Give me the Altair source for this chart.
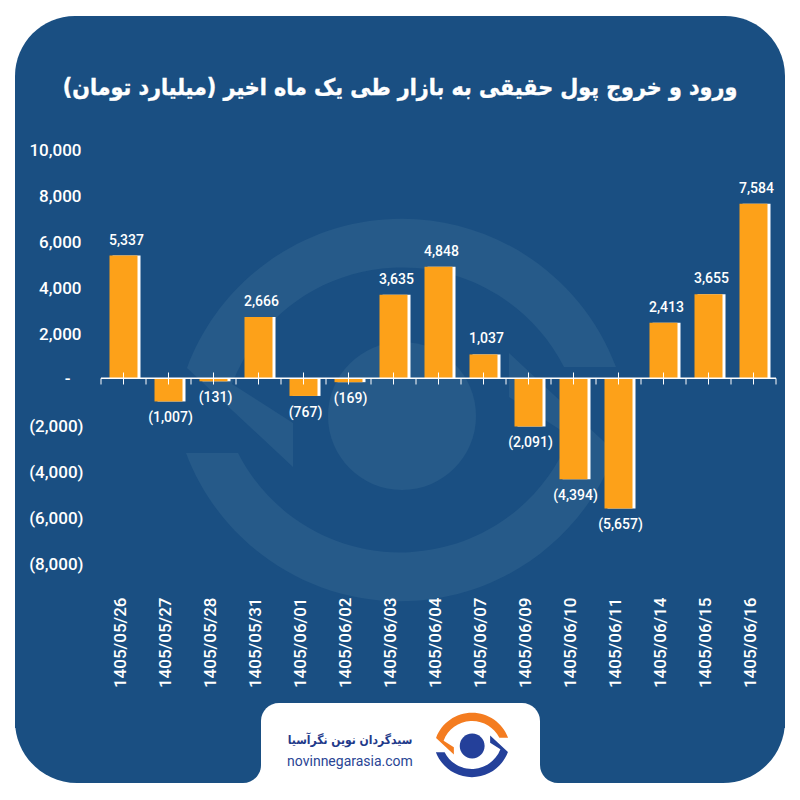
import altair as alt
import pandas as pd

dates = ["1405/05/26", "1405/05/27", "1405/05/28", "1405/05/31", "1405/06/01",
         "1405/06/02", "1405/06/03", "1405/06/04", "1405/06/07", "1405/06/09",
         "1405/06/10", "1405/06/11", "1405/06/14", "1405/06/15", "1405/06/16"]
values = [5337, -1007, -131, 2666, -767, -169, 3635, 4848, 1037, -2091,
          -4394, -5657, 2413, 3655, 7584]
y_ticks = [10000, 8000, 6000, 4000, 2000, 0, -2000, -4000, -6000, -8000]
title_text = "ورود و خروج پول حقیقی به بازار طی یک ماه اخیر (میلیارد تومان)"
brand_text = "سیدگردان نوین نگرآسیا"
site_text = "novinnegarasia.com"

BLUE = "#1a4f82"
WATER = "#265a89"
ORANGE = "#fda119"
LOGO_ORANGE = "#f47c20"
LOGO_BLUE = "#24409a"
FONT = "Roboto"
FA_FONT = "DejaVu Sans Condensed"

df = pd.DataFrame({
    "date": dates,
    "value": values,
    "label": [f"{v:,}" if v >= 0 else f"({-v:,})" for v in values],
})
one = pd.DataFrame({"a": [0]})

x_scale = alt.Scale(domain=dates, range=[93, 768], paddingInner=0, paddingOuter=0)
y_scale = alt.Scale(domain=[-8000, 10000], range=[554.3, 140.3], nice=False)

label_expr = ("datum.value === 0 ? '-' : datum.value < 0 ? "
              "'(' + format(-datum.value, ',') + ')' : format(datum.value, ',')")

X = alt.X("date:N", scale=x_scale, sort=dates, title=None,
          axis=alt.Axis(orient="bottom", offset=-195, labelAngle=-90, labelAlign="right",
                        labelBaseline="middle", labelFont=FONT, labelFontSize=17,
                        labelFontWeight=500, labelColor="white", labelOffset=-2.5,
                        labelPadding=0, ticks=False, domain=False, grid=False, zindex=1,
                        labelOverlap=False))
Y = alt.Y("value:Q", scale=y_scale, title=None,
          axis=alt.Axis(orient="left", offset=-73, values=y_ticks, labelExpr=label_expr,
                        labelFont=FONT, labelFontSize=17, labelFontWeight=500,
                        labelColor="white", ticks=False, domain=False, grid=False,
                        zindex=1, labelOverlap=False,
                        labelOffset={"condition": {"test": "datum.value === 0", "value": 0},
                                     "value": 2.5},
                        labelPadding={"condition": [
                            {"test": "datum.value === 0", "value": 11},
                            {"test": "datum.value < 0", "value": -2}],
                            "value": 0}))


def rect(x, x2, y, y2, color, **radii):
    return alt.Chart(one).mark_rect(color=color, **radii).encode(
        x=alt.value(x), x2=alt.value(x2), y=alt.value(y), y2=alt.value(y2))


def shape(path, cx, cy, size, color):
    return alt.Chart(one).mark_point(shape=path, size=size, filled=True, fill=color,
                                     opacity=1, strokeWidth=0).encode(
        x=alt.value(cx - 8), y=alt.value(cy - 8))


def text(s, cx, cy, font, size, weight, color, **kw):
    return alt.Chart(one).mark_text(text=s, font=font, fontSize=size, fontWeight=weight,
                                    color=color, align="center", baseline="middle", **kw).encode(
        x=alt.value(cx - 8), y=alt.value(cy - 8))


TOP = ("M-2.14,-.42 A2.29,2.29 0 0 1 2.15,-.43 L1.63,-.43 "
       "A1.82,1.82 0 0 0 -1.69,-.26 L-1.08,.13 L-1.08,.57 Z")
BOTTOM = ("M2.14,.42 A2.29,2.29 0 0 1 -2.15,.43 L-1.63,.43 "
          "A1.82,1.82 0 0 0 1.69,.26 L1.08,-.13 L1.08,-.57 Z")
CIRCLE = "M-.73,.06 A.74,.74 0 1 1 .75,.06 A.74,.74 0 1 1 -.73,.06 Z"

panel = [
    rect(7, 777, 8, 720, BLUE, cornerRadiusTopLeft=60, cornerRadiusTopRight=60),
    rect(7, 253, 500, 775, BLUE, cornerRadiusBottomLeft=62, cornerRadiusBottomRight=18),
    rect(532, 777, 500, 775, BLUE, cornerRadiusBottomRight=62, cornerRadiusBottomLeft=18),
    rect(253, 532, 695, 775, "white", cornerRadiusTopLeft=18, cornerRadiusTopRight=18),
    shape(TOP, 401, 410, 40000, WATER),
    shape(BOTTOM, 401, 410, 40000, WATER),
    shape(CIRCLE, 401, 410, 40000, WATER),
]

base = alt.Chart(df)
shadow = base.mark_bar(size=28, xOffset=3, color="white").encode(x=X, y=Y)
bars = base.mark_bar(size=28, color=ORANGE).encode(x=X, y=Y)

zero = alt.Chart(one).mark_rule(color="white", strokeWidth=1.5).encode(
    x=alt.value(93), x2=alt.value(768), y=alt.value(370.3))
tick_mid = base.mark_rule(color="white", strokeWidth=1).encode(
    x=alt.X("date:N", bandPosition=0.5), y=alt.value(364.5), y2=alt.value(376.5))
tick_left = base.mark_rule(color="white", strokeWidth=1).encode(
    x=alt.X("date:N", bandPosition=0), y=alt.value(370.3), y2=alt.value(376.5))
tick_end = alt.Chart(df.tail(1)).mark_rule(color="white", strokeWidth=1).encode(
    x=alt.X("date:N", bandPosition=1), y=alt.value(370.3), y2=alt.value(376.5))

lab_style = dict(font=FONT, fontSize=14, fontWeight=500, color="white",
                 align="center", baseline="middle")
pos = base.transform_filter("datum.value >= 0").mark_text(dy=-15, dx=3, **lab_style).encode(
    x=X, y=Y, text="label:N")
neg = base.transform_filter("datum.value < 0").mark_text(dy=17, dx=2, **lab_style).encode(
    x=X, y=Y, text="label:N")

logo = [
    shape(TOP, 472, 745, 1129, LOGO_ORANGE),
    shape(BOTTOM, 472, 745, 1129, LOGO_BLUE),
    shape(CIRCLE, 472, 745, 1129, LOGO_BLUE),
    text(brand_text, 350, 740, FA_FONT, 12, "bold", "#1f3a8a"),
    text(site_text, 350, 762, FONT, 14, 400, "#2a4595"),
]

heading = text(title_text, 400, 88, FA_FONT, 23, "bold", "white", stroke="white", strokeWidth=0.4)

chart = alt.layer(*panel, shadow, bars, zero, tick_mid, tick_left, tick_end,
                  pos, neg, heading, *logo).properties(
    width=784, height=784, padding=0, background="white",
    autosize=alt.AutoSizeParams(type="none"),
).configure_view(stroke=None)

chart.save("out.html", embed_options={"renderer": "svg", "actions": False})
